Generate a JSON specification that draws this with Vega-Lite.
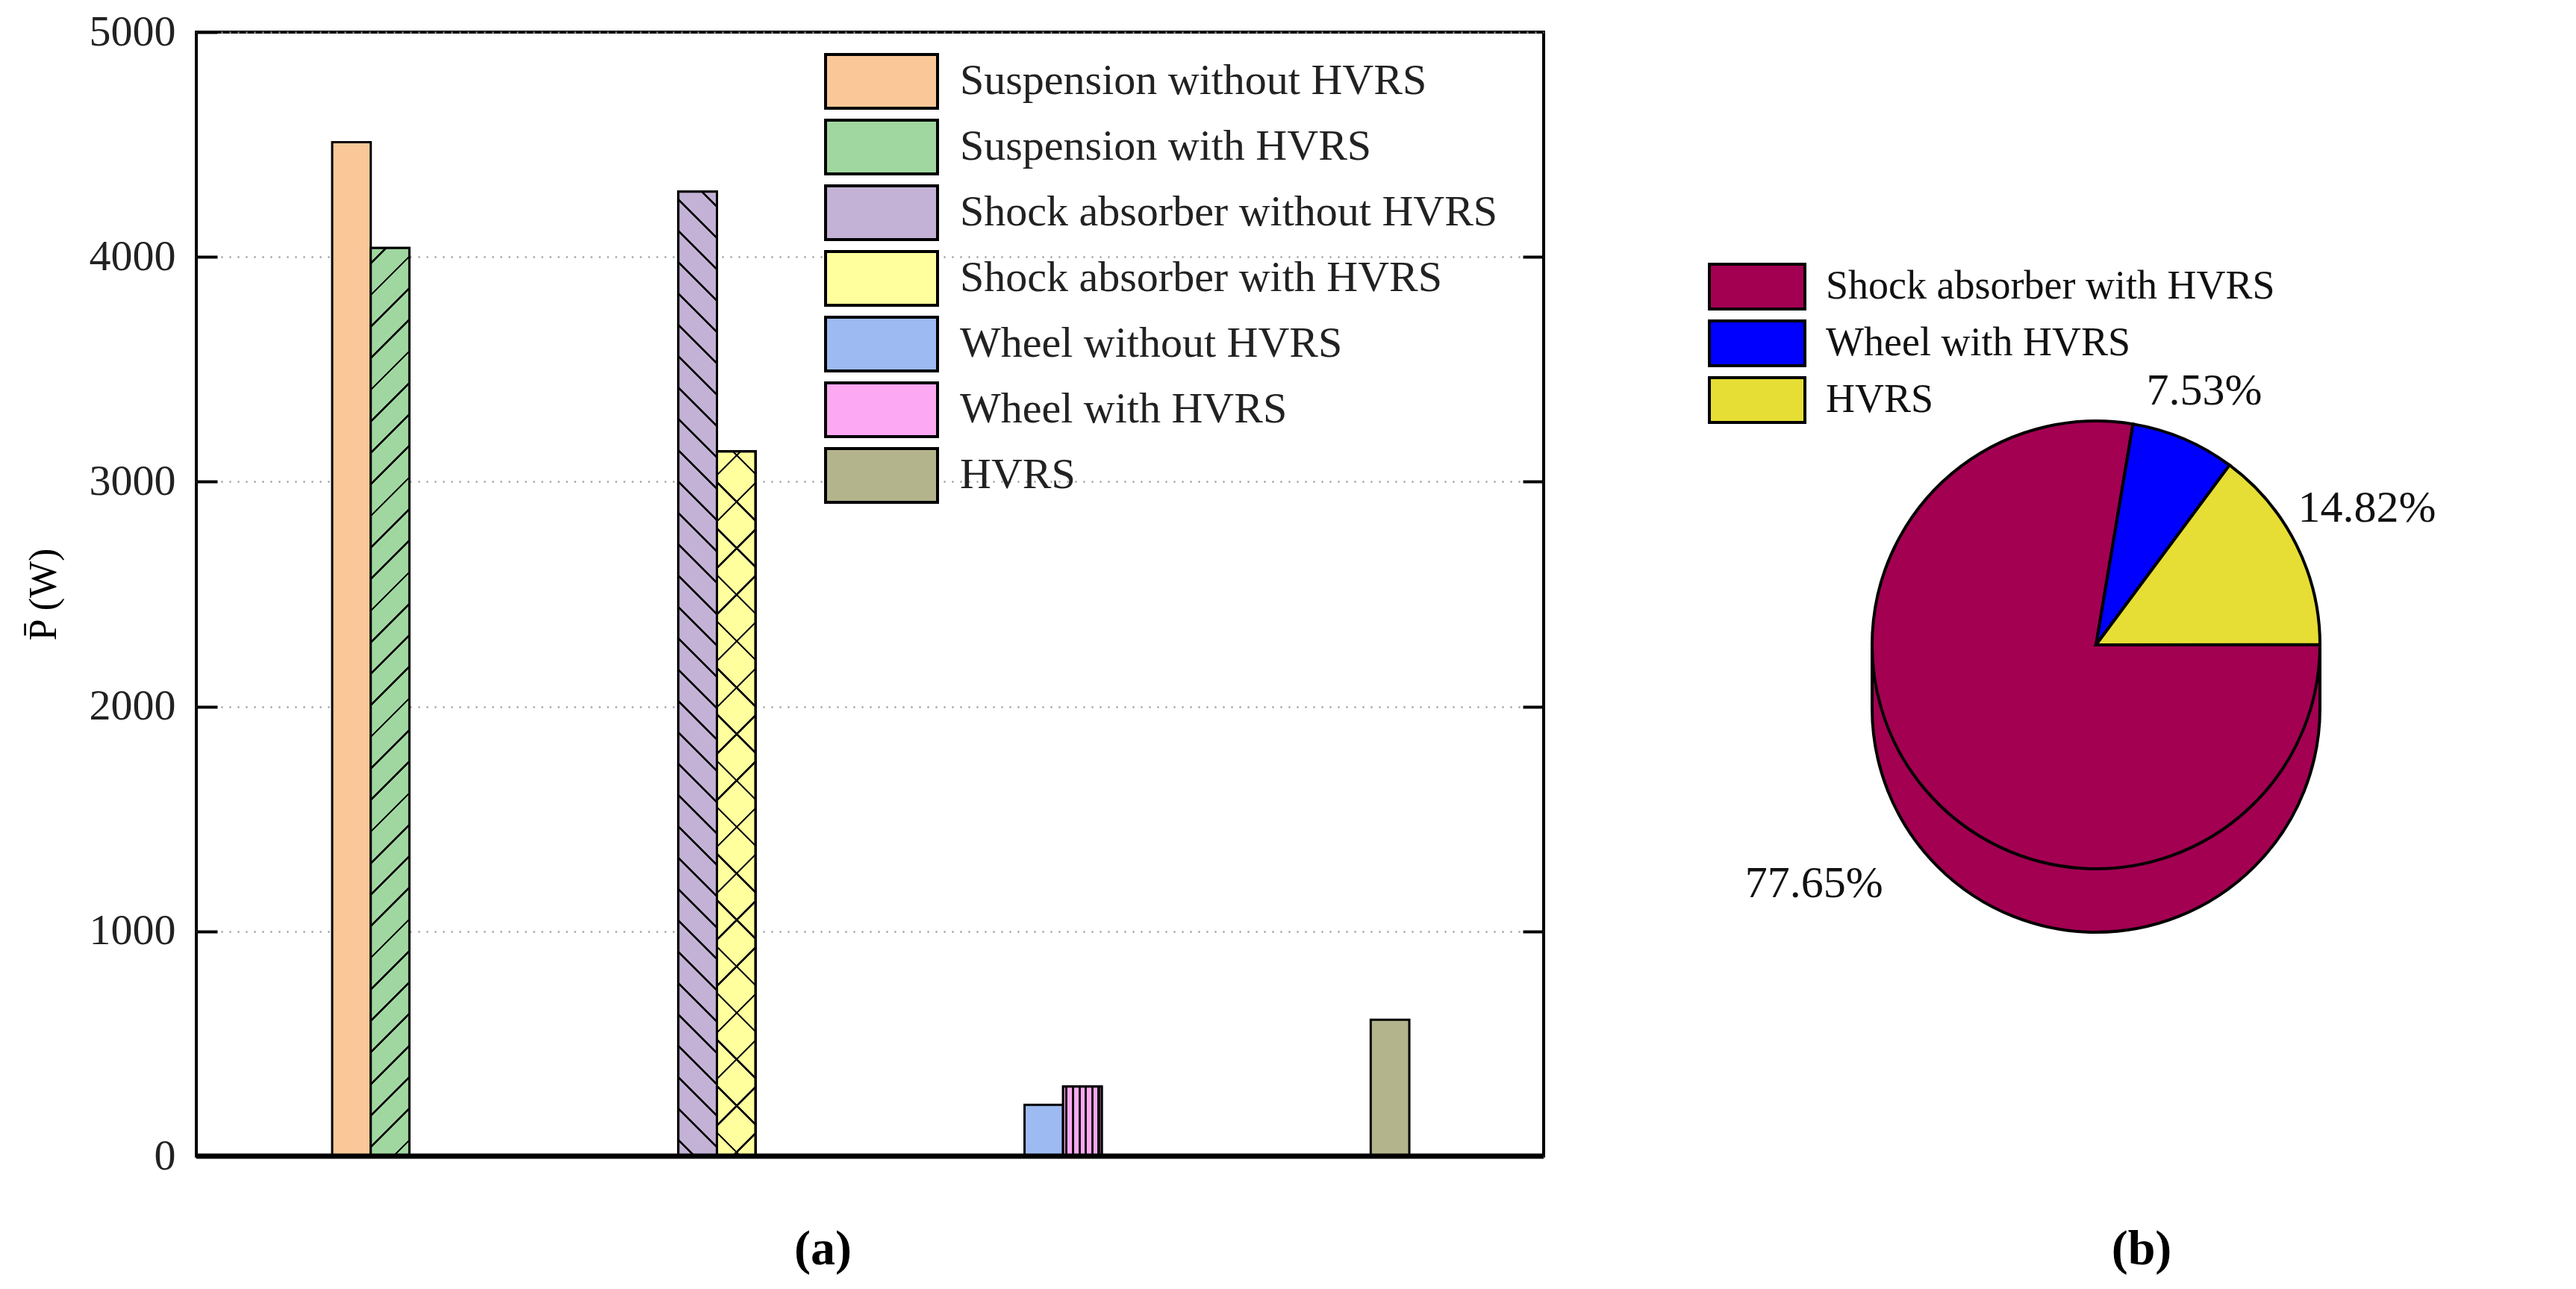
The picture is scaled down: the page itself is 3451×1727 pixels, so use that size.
{
  "$schema": "https://vega.github.io/schema/vega-lite/v6.json",
  "background": "white",
  "padding": {"left": 30, "top": 12, "right": 0, "bottom": 0},
  "config": {"view": {"stroke": null}, "font": "Liberation Serif"},
  "spacing": 200,
  "resolve": {"scale": {"color": "independent", "theta": "independent"}, "legend": {"color": "independent"}},
  "hconcat": [
    {
      "width": 1805,
      "height": 1506,
      "view": {"stroke": "black", "strokeWidth": 4},
      "title": {"text": "(a)", "orient": "bottom", "fontSize": 66, "fontWeight": "bold", "font": "Liberation Serif", "offset": 64, "dx": -63, "color": "black"},
      "data": {"values": [
        {"group": "Suspension", "slot": "L", "series": "Suspension without HVRS", "P": 4510},
        {"group": "Suspension", "slot": "R", "series": "Suspension with HVRS", "P": 4040},
        {"group": "Shock absorber", "slot": "L", "series": "Shock absorber without HVRS", "P": 4290},
        {"group": "Shock absorber", "slot": "R", "series": "Shock absorber with HVRS", "P": 3135},
        {"group": "Wheel", "slot": "L", "series": "Wheel without HVRS", "P": 228},
        {"group": "Wheel", "slot": "R", "series": "Wheel with HVRS", "P": 310},
        {"group": "HVRS", "slot": "L", "series": "HVRS", "P": 607}
      ]},
      "layer": [
        {
          "mark": {"type": "bar", "stroke": "black", "strokeWidth": 3},
          "encoding": {
            "x": {"field": "group", "type": "nominal", "sort": ["Suspension", "Shock absorber", "Wheel", "HVRS"], "axis": null,
                  "scale": {"paddingInner": 0.108, "paddingOuter": 0, "align": 0}},
            "xOffset": {"field": "slot", "type": "nominal", "sort": ["L", "R"], "scale": {"paddingInner": 0, "paddingOuter": 0, "range": [182, 285.4]}},
            "y": {"field": "P", "type": "quantitative", "scale": {"domain": [0, 5000], "nice": false},
                  "axis": {"values": [0, 1000, 2000, 3000, 4000, 5000], "format": "d", "title": "P̄ (W)", "titleFont": "Liberation Serif", "titleFontSize": 52, "titleFontWeight": "normal", "titleColor": "black", "titlePadding": 34,
                           "labelFont": "Liberation Serif", "labelFontSize": 58, "labelColor": "#222", "labelPadding": 56,
                           "tickSize": -28, "tickWidth": 4, "tickColor": "black", "domain": false,
                           "grid": true, "gridColor": "#999", "gridDash": [2, 9], "gridWidth": 2.5}},
            "color": {"field": "series", "type": "nominal",
                      "scale": {"domain": ["Suspension without HVRS", "Suspension with HVRS", "Shock absorber without HVRS", "Shock absorber with HVRS", "Wheel without HVRS", "Wheel with HVRS", "HVRS"],
                                "range": ["#FAC898", "#A0D7A0", "#C3B2D6", "#FFFF9E", "#9DBBF2", "#FDA8F3", "#B4B48C"]},
                      "legend": {"orient": "none", "legendX": 882, "legendY": 30, "title": null,
                                 "symbolType": "M-2.206,-1.0588H2.206V1.0588H-2.206Z", "symbolSize": 4624, "symbolStrokeColor": "black", "symbolStrokeWidth": 4, "symbolOpacity": 1,
                                 "labelFont": "Liberation Serif", "labelFontSize": 58, "labelColor": "#222", "labelOffset": 69, "rowPadding": 0, "labelLimit": 0}}
          }
        },
        {
          "transform": [{"filter": "datum.series == 'Suspension with HVRS'"}],
          "mark": {"type": "bar", "stroke": "black", "strokeWidth": 3,
                   "fill": {"gradient": "linear", "x1": 0, "y1": 0, "x2": 0.04421, "y2": 1.0406, "stops": [
                     {"offset": 0, "color": "#A0D7A0"},
                     {"offset": 0.015, "color": "#A0D7A0"}, {"offset": 0.015, "color": "#111"}, {"offset": 0.018, "color": "#111"}, {"offset": 0.018, "color": "#A0D7A0"},
                     {"offset": 0.04833, "color": "#A0D7A0"}, {"offset": 0.04833, "color": "#111"}, {"offset": 0.05133, "color": "#111"}, {"offset": 0.05133, "color": "#A0D7A0"},
                     {"offset": 0.08167, "color": "#A0D7A0"}, {"offset": 0.08167, "color": "#111"}, {"offset": 0.08467, "color": "#111"}, {"offset": 0.08467, "color": "#A0D7A0"},
                     {"offset": 0.115, "color": "#A0D7A0"}, {"offset": 0.115, "color": "#111"}, {"offset": 0.118, "color": "#111"}, {"offset": 0.118, "color": "#A0D7A0"},
                     {"offset": 0.14833, "color": "#A0D7A0"}, {"offset": 0.14833, "color": "#111"}, {"offset": 0.15133, "color": "#111"}, {"offset": 0.15133, "color": "#A0D7A0"},
                     {"offset": 0.18167, "color": "#A0D7A0"}, {"offset": 0.18167, "color": "#111"}, {"offset": 0.18467, "color": "#111"}, {"offset": 0.18467, "color": "#A0D7A0"},
                     {"offset": 0.215, "color": "#A0D7A0"}, {"offset": 0.215, "color": "#111"}, {"offset": 0.218, "color": "#111"}, {"offset": 0.218, "color": "#A0D7A0"},
                     {"offset": 0.24833, "color": "#A0D7A0"}, {"offset": 0.24833, "color": "#111"}, {"offset": 0.25133, "color": "#111"}, {"offset": 0.25133, "color": "#A0D7A0"},
                     {"offset": 0.28167, "color": "#A0D7A0"}, {"offset": 0.28167, "color": "#111"}, {"offset": 0.28467, "color": "#111"}, {"offset": 0.28467, "color": "#A0D7A0"},
                     {"offset": 0.315, "color": "#A0D7A0"}, {"offset": 0.315, "color": "#111"}, {"offset": 0.318, "color": "#111"}, {"offset": 0.318, "color": "#A0D7A0"},
                     {"offset": 0.34833, "color": "#A0D7A0"}, {"offset": 0.34833, "color": "#111"}, {"offset": 0.35133, "color": "#111"}, {"offset": 0.35133, "color": "#A0D7A0"},
                     {"offset": 0.38167, "color": "#A0D7A0"}, {"offset": 0.38167, "color": "#111"}, {"offset": 0.38467, "color": "#111"}, {"offset": 0.38467, "color": "#A0D7A0"},
                     {"offset": 0.415, "color": "#A0D7A0"}, {"offset": 0.415, "color": "#111"}, {"offset": 0.418, "color": "#111"}, {"offset": 0.418, "color": "#A0D7A0"},
                     {"offset": 0.44833, "color": "#A0D7A0"}, {"offset": 0.44833, "color": "#111"}, {"offset": 0.45133, "color": "#111"}, {"offset": 0.45133, "color": "#A0D7A0"},
                     {"offset": 0.48167, "color": "#A0D7A0"}, {"offset": 0.48167, "color": "#111"}, {"offset": 0.48467, "color": "#111"}, {"offset": 0.48467, "color": "#A0D7A0"},
                     {"offset": 0.515, "color": "#A0D7A0"}, {"offset": 0.515, "color": "#111"}, {"offset": 0.518, "color": "#111"}, {"offset": 0.518, "color": "#A0D7A0"},
                     {"offset": 0.54833, "color": "#A0D7A0"}, {"offset": 0.54833, "color": "#111"}, {"offset": 0.55133, "color": "#111"}, {"offset": 0.55133, "color": "#A0D7A0"},
                     {"offset": 0.58167, "color": "#A0D7A0"}, {"offset": 0.58167, "color": "#111"}, {"offset": 0.58467, "color": "#111"}, {"offset": 0.58467, "color": "#A0D7A0"},
                     {"offset": 0.615, "color": "#A0D7A0"}, {"offset": 0.615, "color": "#111"}, {"offset": 0.618, "color": "#111"}, {"offset": 0.618, "color": "#A0D7A0"},
                     {"offset": 0.64833, "color": "#A0D7A0"}, {"offset": 0.64833, "color": "#111"}, {"offset": 0.65133, "color": "#111"}, {"offset": 0.65133, "color": "#A0D7A0"},
                     {"offset": 0.68167, "color": "#A0D7A0"}, {"offset": 0.68167, "color": "#111"}, {"offset": 0.68467, "color": "#111"}, {"offset": 0.68467, "color": "#A0D7A0"},
                     {"offset": 0.715, "color": "#A0D7A0"}, {"offset": 0.715, "color": "#111"}, {"offset": 0.718, "color": "#111"}, {"offset": 0.718, "color": "#A0D7A0"},
                     {"offset": 0.74833, "color": "#A0D7A0"}, {"offset": 0.74833, "color": "#111"}, {"offset": 0.75133, "color": "#111"}, {"offset": 0.75133, "color": "#A0D7A0"},
                     {"offset": 0.78167, "color": "#A0D7A0"}, {"offset": 0.78167, "color": "#111"}, {"offset": 0.78467, "color": "#111"}, {"offset": 0.78467, "color": "#A0D7A0"},
                     {"offset": 0.815, "color": "#A0D7A0"}, {"offset": 0.815, "color": "#111"}, {"offset": 0.818, "color": "#111"}, {"offset": 0.818, "color": "#A0D7A0"},
                     {"offset": 0.84833, "color": "#A0D7A0"}, {"offset": 0.84833, "color": "#111"}, {"offset": 0.85133, "color": "#111"}, {"offset": 0.85133, "color": "#A0D7A0"},
                     {"offset": 0.88167, "color": "#A0D7A0"}, {"offset": 0.88167, "color": "#111"}, {"offset": 0.88467, "color": "#111"}, {"offset": 0.88467, "color": "#A0D7A0"},
                     {"offset": 0.915, "color": "#A0D7A0"}, {"offset": 0.915, "color": "#111"}, {"offset": 0.918, "color": "#111"}, {"offset": 0.918, "color": "#A0D7A0"},
                     {"offset": 0.94833, "color": "#A0D7A0"}, {"offset": 0.94833, "color": "#111"}, {"offset": 0.95133, "color": "#111"}, {"offset": 0.95133, "color": "#A0D7A0"},
                     {"offset": 0.98167, "color": "#A0D7A0"}, {"offset": 0.98167, "color": "#111"}, {"offset": 0.98467, "color": "#111"}, {"offset": 0.98467, "color": "#A0D7A0"},
                     {"offset": 1, "color": "#A0D7A0"}
                   ]}},
          "encoding": {
            "x": {"field": "group", "type": "nominal", "sort": ["Suspension", "Shock absorber", "Wheel", "HVRS"], "axis": null},
            "xOffset": {"field": "slot", "type": "nominal", "sort": ["L", "R"]},
            "y": {"field": "P", "type": "quantitative", "axis": null}
          }
        },
        {
          "transform": [{"filter": "datum.series == 'Shock absorber without HVRS'"}],
          "mark": {"type": "bar", "stroke": "black", "strokeWidth": 3,
                   "fill": {"gradient": "linear", "x1": 0, "y1": 1, "x2": 0.04155, "y2": -0.0383, "stops": [
                     {"offset": 0, "color": "#C3B2D6"},
                     {"offset": 0.015, "color": "#C3B2D6"}, {"offset": 0.015, "color": "#111"}, {"offset": 0.018, "color": "#111"}, {"offset": 0.018, "color": "#C3B2D6"},
                     {"offset": 0.04625, "color": "#C3B2D6"}, {"offset": 0.04625, "color": "#111"}, {"offset": 0.04925, "color": "#111"}, {"offset": 0.04925, "color": "#C3B2D6"},
                     {"offset": 0.0775, "color": "#C3B2D6"}, {"offset": 0.0775, "color": "#111"}, {"offset": 0.0805, "color": "#111"}, {"offset": 0.0805, "color": "#C3B2D6"},
                     {"offset": 0.10875, "color": "#C3B2D6"}, {"offset": 0.10875, "color": "#111"}, {"offset": 0.11175, "color": "#111"}, {"offset": 0.11175, "color": "#C3B2D6"},
                     {"offset": 0.14, "color": "#C3B2D6"}, {"offset": 0.14, "color": "#111"}, {"offset": 0.143, "color": "#111"}, {"offset": 0.143, "color": "#C3B2D6"},
                     {"offset": 0.17125, "color": "#C3B2D6"}, {"offset": 0.17125, "color": "#111"}, {"offset": 0.17425, "color": "#111"}, {"offset": 0.17425, "color": "#C3B2D6"},
                     {"offset": 0.2025, "color": "#C3B2D6"}, {"offset": 0.2025, "color": "#111"}, {"offset": 0.2055, "color": "#111"}, {"offset": 0.2055, "color": "#C3B2D6"},
                     {"offset": 0.23375, "color": "#C3B2D6"}, {"offset": 0.23375, "color": "#111"}, {"offset": 0.23675, "color": "#111"}, {"offset": 0.23675, "color": "#C3B2D6"},
                     {"offset": 0.265, "color": "#C3B2D6"}, {"offset": 0.265, "color": "#111"}, {"offset": 0.268, "color": "#111"}, {"offset": 0.268, "color": "#C3B2D6"},
                     {"offset": 0.29625, "color": "#C3B2D6"}, {"offset": 0.29625, "color": "#111"}, {"offset": 0.29925, "color": "#111"}, {"offset": 0.29925, "color": "#C3B2D6"},
                     {"offset": 0.3275, "color": "#C3B2D6"}, {"offset": 0.3275, "color": "#111"}, {"offset": 0.3305, "color": "#111"}, {"offset": 0.3305, "color": "#C3B2D6"},
                     {"offset": 0.35875, "color": "#C3B2D6"}, {"offset": 0.35875, "color": "#111"}, {"offset": 0.36175, "color": "#111"}, {"offset": 0.36175, "color": "#C3B2D6"},
                     {"offset": 0.39, "color": "#C3B2D6"}, {"offset": 0.39, "color": "#111"}, {"offset": 0.393, "color": "#111"}, {"offset": 0.393, "color": "#C3B2D6"},
                     {"offset": 0.42125, "color": "#C3B2D6"}, {"offset": 0.42125, "color": "#111"}, {"offset": 0.42425, "color": "#111"}, {"offset": 0.42425, "color": "#C3B2D6"},
                     {"offset": 0.4525, "color": "#C3B2D6"}, {"offset": 0.4525, "color": "#111"}, {"offset": 0.4555, "color": "#111"}, {"offset": 0.4555, "color": "#C3B2D6"},
                     {"offset": 0.48375, "color": "#C3B2D6"}, {"offset": 0.48375, "color": "#111"}, {"offset": 0.48675, "color": "#111"}, {"offset": 0.48675, "color": "#C3B2D6"},
                     {"offset": 0.515, "color": "#C3B2D6"}, {"offset": 0.515, "color": "#111"}, {"offset": 0.518, "color": "#111"}, {"offset": 0.518, "color": "#C3B2D6"},
                     {"offset": 0.54625, "color": "#C3B2D6"}, {"offset": 0.54625, "color": "#111"}, {"offset": 0.54925, "color": "#111"}, {"offset": 0.54925, "color": "#C3B2D6"},
                     {"offset": 0.5775, "color": "#C3B2D6"}, {"offset": 0.5775, "color": "#111"}, {"offset": 0.5805, "color": "#111"}, {"offset": 0.5805, "color": "#C3B2D6"},
                     {"offset": 0.60875, "color": "#C3B2D6"}, {"offset": 0.60875, "color": "#111"}, {"offset": 0.61175, "color": "#111"}, {"offset": 0.61175, "color": "#C3B2D6"},
                     {"offset": 0.64, "color": "#C3B2D6"}, {"offset": 0.64, "color": "#111"}, {"offset": 0.643, "color": "#111"}, {"offset": 0.643, "color": "#C3B2D6"},
                     {"offset": 0.67125, "color": "#C3B2D6"}, {"offset": 0.67125, "color": "#111"}, {"offset": 0.67425, "color": "#111"}, {"offset": 0.67425, "color": "#C3B2D6"},
                     {"offset": 0.7025, "color": "#C3B2D6"}, {"offset": 0.7025, "color": "#111"}, {"offset": 0.7055, "color": "#111"}, {"offset": 0.7055, "color": "#C3B2D6"},
                     {"offset": 0.73375, "color": "#C3B2D6"}, {"offset": 0.73375, "color": "#111"}, {"offset": 0.73675, "color": "#111"}, {"offset": 0.73675, "color": "#C3B2D6"},
                     {"offset": 0.765, "color": "#C3B2D6"}, {"offset": 0.765, "color": "#111"}, {"offset": 0.768, "color": "#111"}, {"offset": 0.768, "color": "#C3B2D6"},
                     {"offset": 0.79625, "color": "#C3B2D6"}, {"offset": 0.79625, "color": "#111"}, {"offset": 0.79925, "color": "#111"}, {"offset": 0.79925, "color": "#C3B2D6"},
                     {"offset": 0.8275, "color": "#C3B2D6"}, {"offset": 0.8275, "color": "#111"}, {"offset": 0.8305, "color": "#111"}, {"offset": 0.8305, "color": "#C3B2D6"},
                     {"offset": 0.85875, "color": "#C3B2D6"}, {"offset": 0.85875, "color": "#111"}, {"offset": 0.86175, "color": "#111"}, {"offset": 0.86175, "color": "#C3B2D6"},
                     {"offset": 0.89, "color": "#C3B2D6"}, {"offset": 0.89, "color": "#111"}, {"offset": 0.893, "color": "#111"}, {"offset": 0.893, "color": "#C3B2D6"},
                     {"offset": 0.92125, "color": "#C3B2D6"}, {"offset": 0.92125, "color": "#111"}, {"offset": 0.92425, "color": "#111"}, {"offset": 0.92425, "color": "#C3B2D6"},
                     {"offset": 0.9525, "color": "#C3B2D6"}, {"offset": 0.9525, "color": "#111"}, {"offset": 0.9555, "color": "#111"}, {"offset": 0.9555, "color": "#C3B2D6"},
                     {"offset": 0.98375, "color": "#C3B2D6"}, {"offset": 0.98375, "color": "#111"}, {"offset": 0.98675, "color": "#111"}, {"offset": 0.98675, "color": "#C3B2D6"},
                     {"offset": 1, "color": "#C3B2D6"}
                   ]}},
          "encoding": {
            "x": {"field": "group", "type": "nominal", "sort": ["Suspension", "Shock absorber", "Wheel", "HVRS"], "axis": null},
            "xOffset": {"field": "slot", "type": "nominal", "sort": ["L", "R"]},
            "y": {"field": "P", "type": "quantitative", "axis": null}
          }
        },
        {
          "transform": [{"filter": "datum.series == 'Shock absorber with HVRS'"}],
          "mark": {"type": "bar", "stroke": "black", "strokeWidth": 3,
                   "fill": {"gradient": "linear", "x1": 0, "y1": 0, "x2": 0.05757, "y2": 1.0516, "stops": [
                     {"offset": 0, "color": "#FFFF9E"},
                     {"offset": 0.03, "color": "#FFFF9E"}, {"offset": 0.03, "color": "#111"}, {"offset": 0.0335, "color": "#111"}, {"offset": 0.0335, "color": "#FFFF9E"},
                     {"offset": 0.0925, "color": "#FFFF9E"}, {"offset": 0.0925, "color": "#111"}, {"offset": 0.096, "color": "#111"}, {"offset": 0.096, "color": "#FFFF9E"},
                     {"offset": 0.155, "color": "#FFFF9E"}, {"offset": 0.155, "color": "#111"}, {"offset": 0.1585, "color": "#111"}, {"offset": 0.1585, "color": "#FFFF9E"},
                     {"offset": 0.2175, "color": "#FFFF9E"}, {"offset": 0.2175, "color": "#111"}, {"offset": 0.221, "color": "#111"}, {"offset": 0.221, "color": "#FFFF9E"},
                     {"offset": 0.28, "color": "#FFFF9E"}, {"offset": 0.28, "color": "#111"}, {"offset": 0.2835, "color": "#111"}, {"offset": 0.2835, "color": "#FFFF9E"},
                     {"offset": 0.3425, "color": "#FFFF9E"}, {"offset": 0.3425, "color": "#111"}, {"offset": 0.346, "color": "#111"}, {"offset": 0.346, "color": "#FFFF9E"},
                     {"offset": 0.405, "color": "#FFFF9E"}, {"offset": 0.405, "color": "#111"}, {"offset": 0.4085, "color": "#111"}, {"offset": 0.4085, "color": "#FFFF9E"},
                     {"offset": 0.4675, "color": "#FFFF9E"}, {"offset": 0.4675, "color": "#111"}, {"offset": 0.471, "color": "#111"}, {"offset": 0.471, "color": "#FFFF9E"},
                     {"offset": 0.53, "color": "#FFFF9E"}, {"offset": 0.53, "color": "#111"}, {"offset": 0.5335, "color": "#111"}, {"offset": 0.5335, "color": "#FFFF9E"},
                     {"offset": 0.5925, "color": "#FFFF9E"}, {"offset": 0.5925, "color": "#111"}, {"offset": 0.596, "color": "#111"}, {"offset": 0.596, "color": "#FFFF9E"},
                     {"offset": 0.655, "color": "#FFFF9E"}, {"offset": 0.655, "color": "#111"}, {"offset": 0.6585, "color": "#111"}, {"offset": 0.6585, "color": "#FFFF9E"},
                     {"offset": 0.7175, "color": "#FFFF9E"}, {"offset": 0.7175, "color": "#111"}, {"offset": 0.721, "color": "#111"}, {"offset": 0.721, "color": "#FFFF9E"},
                     {"offset": 0.78, "color": "#FFFF9E"}, {"offset": 0.78, "color": "#111"}, {"offset": 0.7835, "color": "#111"}, {"offset": 0.7835, "color": "#FFFF9E"},
                     {"offset": 0.8425, "color": "#FFFF9E"}, {"offset": 0.8425, "color": "#111"}, {"offset": 0.846, "color": "#111"}, {"offset": 0.846, "color": "#FFFF9E"},
                     {"offset": 0.905, "color": "#FFFF9E"}, {"offset": 0.905, "color": "#111"}, {"offset": 0.9085, "color": "#111"}, {"offset": 0.9085, "color": "#FFFF9E"},
                     {"offset": 0.9675, "color": "#FFFF9E"}, {"offset": 0.9675, "color": "#111"}, {"offset": 0.971, "color": "#111"}, {"offset": 0.971, "color": "#FFFF9E"},
                     {"offset": 1, "color": "#FFFF9E"}
                   ]}},
          "encoding": {
            "x": {"field": "group", "type": "nominal", "sort": ["Suspension", "Shock absorber", "Wheel", "HVRS"], "axis": null},
            "xOffset": {"field": "slot", "type": "nominal", "sort": ["L", "R"]},
            "y": {"field": "P", "type": "quantitative", "axis": null}
          }
        },
        {
          "transform": [{"filter": "datum.series == 'Shock absorber with HVRS'"}],
          "mark": {"type": "bar", "stroke": "black", "strokeWidth": 3,
                   "fill": {"gradient": "linear", "x1": 0, "y1": 1, "x2": 0.05757, "y2": -0.0516, "stops": [
                     {"offset": 0, "color": "rgba(0,0,0,0)"},
                     {"offset": 0.03, "color": "rgba(0,0,0,0)"}, {"offset": 0.03, "color": "#111"}, {"offset": 0.0335, "color": "#111"}, {"offset": 0.0335, "color": "rgba(0,0,0,0)"},
                     {"offset": 0.0925, "color": "rgba(0,0,0,0)"}, {"offset": 0.0925, "color": "#111"}, {"offset": 0.096, "color": "#111"}, {"offset": 0.096, "color": "rgba(0,0,0,0)"},
                     {"offset": 0.155, "color": "rgba(0,0,0,0)"}, {"offset": 0.155, "color": "#111"}, {"offset": 0.1585, "color": "#111"}, {"offset": 0.1585, "color": "rgba(0,0,0,0)"},
                     {"offset": 0.2175, "color": "rgba(0,0,0,0)"}, {"offset": 0.2175, "color": "#111"}, {"offset": 0.221, "color": "#111"}, {"offset": 0.221, "color": "rgba(0,0,0,0)"},
                     {"offset": 0.28, "color": "rgba(0,0,0,0)"}, {"offset": 0.28, "color": "#111"}, {"offset": 0.2835, "color": "#111"}, {"offset": 0.2835, "color": "rgba(0,0,0,0)"},
                     {"offset": 0.3425, "color": "rgba(0,0,0,0)"}, {"offset": 0.3425, "color": "#111"}, {"offset": 0.346, "color": "#111"}, {"offset": 0.346, "color": "rgba(0,0,0,0)"},
                     {"offset": 0.405, "color": "rgba(0,0,0,0)"}, {"offset": 0.405, "color": "#111"}, {"offset": 0.4085, "color": "#111"}, {"offset": 0.4085, "color": "rgba(0,0,0,0)"},
                     {"offset": 0.4675, "color": "rgba(0,0,0,0)"}, {"offset": 0.4675, "color": "#111"}, {"offset": 0.471, "color": "#111"}, {"offset": 0.471, "color": "rgba(0,0,0,0)"},
                     {"offset": 0.53, "color": "rgba(0,0,0,0)"}, {"offset": 0.53, "color": "#111"}, {"offset": 0.5335, "color": "#111"}, {"offset": 0.5335, "color": "rgba(0,0,0,0)"},
                     {"offset": 0.5925, "color": "rgba(0,0,0,0)"}, {"offset": 0.5925, "color": "#111"}, {"offset": 0.596, "color": "#111"}, {"offset": 0.596, "color": "rgba(0,0,0,0)"},
                     {"offset": 0.655, "color": "rgba(0,0,0,0)"}, {"offset": 0.655, "color": "#111"}, {"offset": 0.6585, "color": "#111"}, {"offset": 0.6585, "color": "rgba(0,0,0,0)"},
                     {"offset": 0.7175, "color": "rgba(0,0,0,0)"}, {"offset": 0.7175, "color": "#111"}, {"offset": 0.721, "color": "#111"}, {"offset": 0.721, "color": "rgba(0,0,0,0)"},
                     {"offset": 0.78, "color": "rgba(0,0,0,0)"}, {"offset": 0.78, "color": "#111"}, {"offset": 0.7835, "color": "#111"}, {"offset": 0.7835, "color": "rgba(0,0,0,0)"},
                     {"offset": 0.8425, "color": "rgba(0,0,0,0)"}, {"offset": 0.8425, "color": "#111"}, {"offset": 0.846, "color": "#111"}, {"offset": 0.846, "color": "rgba(0,0,0,0)"},
                     {"offset": 0.905, "color": "rgba(0,0,0,0)"}, {"offset": 0.905, "color": "#111"}, {"offset": 0.9085, "color": "#111"}, {"offset": 0.9085, "color": "rgba(0,0,0,0)"},
                     {"offset": 0.9675, "color": "rgba(0,0,0,0)"}, {"offset": 0.9675, "color": "#111"}, {"offset": 0.971, "color": "#111"}, {"offset": 0.971, "color": "rgba(0,0,0,0)"},
                     {"offset": 1, "color": "rgba(0,0,0,0)"}
                   ]}},
          "encoding": {
            "x": {"field": "group", "type": "nominal", "sort": ["Suspension", "Shock absorber", "Wheel", "HVRS"], "axis": null},
            "xOffset": {"field": "slot", "type": "nominal", "sort": ["L", "R"]},
            "y": {"field": "P", "type": "quantitative", "axis": null}
          }
        },
        {
          "transform": [{"filter": "datum.series == 'Wheel with HVRS'"}],
          "mark": {"type": "bar", "stroke": "black", "strokeWidth": 3,
                   "fill": {"gradient": "linear", "x1": 0, "y1": 0, "x2": 1, "y2": 0, "stops": [
                     {"offset": 0, "color": "#FDA8F3"},
                     {"offset": 0.06, "color": "#FDA8F3"}, {"offset": 0.06, "color": "#111"}, {"offset": 0.12, "color": "#111"}, {"offset": 0.12, "color": "#FDA8F3"},
                     {"offset": 0.22667, "color": "#FDA8F3"}, {"offset": 0.22667, "color": "#111"}, {"offset": 0.28667, "color": "#111"}, {"offset": 0.28667, "color": "#FDA8F3"},
                     {"offset": 0.39333, "color": "#FDA8F3"}, {"offset": 0.39333, "color": "#111"}, {"offset": 0.45333, "color": "#111"}, {"offset": 0.45333, "color": "#FDA8F3"},
                     {"offset": 0.56, "color": "#FDA8F3"}, {"offset": 0.56, "color": "#111"}, {"offset": 0.62, "color": "#111"}, {"offset": 0.62, "color": "#FDA8F3"},
                     {"offset": 0.72667, "color": "#FDA8F3"}, {"offset": 0.72667, "color": "#111"}, {"offset": 0.78667, "color": "#111"}, {"offset": 0.78667, "color": "#FDA8F3"},
                     {"offset": 0.89333, "color": "#FDA8F3"}, {"offset": 0.89333, "color": "#111"}, {"offset": 0.95333, "color": "#111"}, {"offset": 0.95333, "color": "#FDA8F3"},
                     {"offset": 1, "color": "#FDA8F3"}
                   ]}},
          "encoding": {
            "x": {"field": "group", "type": "nominal", "sort": ["Suspension", "Shock absorber", "Wheel", "HVRS"], "axis": null},
            "xOffset": {"field": "slot", "type": "nominal", "sort": ["L", "R"]},
            "y": {"field": "P", "type": "quantitative", "axis": null}
          }
        },
        {
          "data": {"values": [{}]},
          "mark": {"type": "rule", "color": "black", "strokeWidth": 7},
          "encoding": {
            "y": {"datum": 0, "type": "quantitative",
                  "axis": {"orient": "right", "values": [1000, 2000, 3000, 4000], "labels": false, "title": null, "domain": false, "grid": false,
                           "tickSize": -28, "tickWidth": 4, "tickColor": "black"}}
          }
        }
      ],
      "resolve": {"axis": {"y": "independent"}}
    },
    {
      "width": 1150,
      "height": 1506,
      "title": {"text": "(b)", "orient": "bottom", "fontSize": 66, "fontWeight": "bold", "font": "Liberation Serif", "offset": 93, "dx": 20, "color": "black"},
      "data": {"values": [
        {"component": "Shock absorber with HVRS", "pct": 77.65, "ord": 3, "label": "77.65%"},
        {"component": "Wheel with HVRS", "pct": 7.53, "ord": 1, "label": "7.53%"},
        {"component": "HVRS", "pct": 14.82, "ord": 2, "label": "14.82%"}
      ]},
      "layer": [
        {
          "data": {"values": [{}]},
          "mark": {"type": "point", "shape": "circle", "size": 360000, "filled": true, "fill": "#A30052", "stroke": "black", "strokeWidth": 4, "opacity": 1, "xOffset": -41, "yOffset": 153},
          "encoding": {}
        },
        {
          "data": {"values": [{}]},
          "mark": {"type": "point", "shape": "M-1,0H1V0.283H-1Z", "size": 360000, "filled": true, "fill": "#A30052", "strokeWidth": 0, "opacity": 1, "xOffset": -41, "yOffset": 68},
          "encoding": {}
        },
        {
          "data": {"values": [{}]},
          "mark": {"type": "point", "shape": "M-1,0V0.283M1,0V0.283", "size": 360000, "filled": false, "stroke": "black", "strokeWidth": 4, "opacity": 1, "xOffset": -41, "yOffset": 68},
          "encoding": {}
        },
        {
          "mark": {"type": "arc", "outerRadius": 300, "stroke": "black", "strokeWidth": 4, "xOffset": -41, "yOffset": 68},
          "encoding": {
            "theta": {"field": "pct", "type": "quantitative", "stack": true, "scale": {"range": [0.1658, 6.4490]}},
            "order": {"field": "ord", "type": "quantitative"},
            "color": {"field": "component", "type": "nominal",
                      "scale": {"domain": ["Shock absorber with HVRS", "Wheel with HVRS", "HVRS"], "range": ["#A30052", "#0000FF", "#E6DE34"]},
                      "legend": {"orient": "none", "legendX": 52, "legendY": 313, "title": null,
                                 "symbolType": "M-2.4615,-1.1538H2.4615V1.1538H-2.4615Z", "symbolSize": 2704, "symbolStrokeColor": "black", "symbolStrokeWidth": 4, "symbolOpacity": 1,
                                 "labelFont": "Liberation Serif", "labelFontSize": 54, "labelColor": "#111", "labelOffset": 64, "rowPadding": 0, "labelLimit": 0}}
          }
        },
        {
          "mark": {"type": "text", "font": "Liberation Serif", "fontSize": 60, "color": "#111", "xOffset": -41, "yOffset": 68},
          "encoding": {
            "theta": {"field": "pct", "type": "quantitative", "stack": true},
            "radius": {"field": "pct", "type": "quantitative", "scale": {"type": "log", "zero": false, "domain": [7.53, 77.65], "range": [370, 495]}},
            "order": {"field": "ord", "type": "quantitative"},
            "text": {"field": "label"}
          }
        }
      ]
    }
  ]
}
